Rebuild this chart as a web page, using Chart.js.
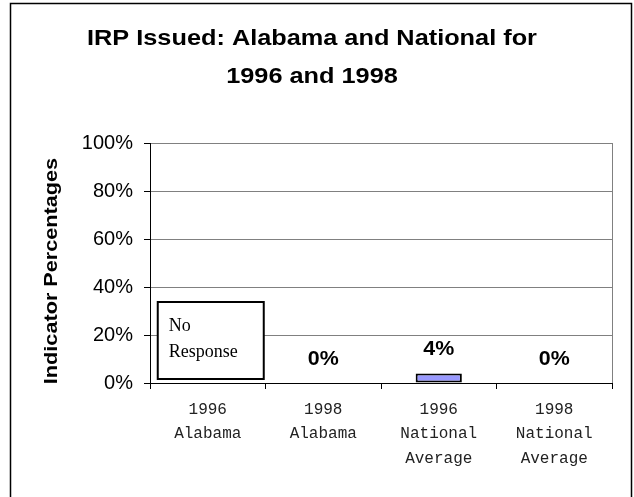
<!DOCTYPE html>
<html>
<head>
<meta charset="utf-8">
<script src="https://cdn.jsdelivr.net/npm/chart.js@4/dist/chart.umd.min.js"></script>
<style>
  html, body { margin: 0; padding: 0; background: #fff; }
  #wrap { width: 634px; height: 497px; position: relative; }
</style>
</head>
<body>
<div id="wrap"><canvas id="c" width="634" height="497"></canvas></div>
<script>
// ---- data ----
const titleLines = ["IRP Issued: Alabama and National for", "1996 and 1998"];
const yAxisTitle = "Indicator Percentages";
const categories = [
  ["1996", "Alabama"],
  ["1998", "Alabama"],
  ["1996", "National", "Average"],
  ["1998", "National", "Average"]
];
const values = [null, 0, 4, 0];           // null = no response
const noResponseText = ["No", "Response"];
const yTickValues = [0, 20, 40, 60, 80, 100];
const yTickLabels = ["0%", "20%", "40%", "60%", "80%", "100%"];

function stretchedText(ctx, text, x, y, sx, align) {
  ctx.save();
  ctx.translate(x, y);
  ctx.scale(sx, 1);
  ctx.textAlign = align || 'center';
  ctx.fillText(text, 0, 0);
  ctx.restore();
}

const decorPlugin = {
  id: 'decor',
  beforeDraw(chart) {
    const ctx = chart.ctx;
    ctx.save();
    ctx.fillStyle = '#fff';
    ctx.fillRect(0, 0, chart.width, chart.height);
    ctx.restore();
  },
  afterDraw(chart) {
    const ctx = chart.ctx;
    const area = chart.chartArea;
    const x = chart.scales.x, y = chart.scales.y;
    ctx.save();
    // outer border
    ctx.strokeStyle = '#000';
    ctx.lineWidth = 1.5;
    ctx.beginPath();
    ctx.moveTo(10.5, 505);
    ctx.lineTo(10.5, 3.5);
    ctx.lineTo(631.5, 3.5);
    ctx.lineTo(631.5, 505);
    ctx.stroke();
    // plot right border
    ctx.strokeStyle = '#808080';
    ctx.lineWidth = 1;
    ctx.beginPath();
    ctx.moveTo(Math.round(area.right) + 0.5, area.top);
    ctx.lineTo(Math.round(area.right) + 0.5, area.bottom);
    ctx.stroke();
    // title
    ctx.fillStyle = '#000';
    ctx.textBaseline = 'middle';
    ctx.font = 'bold 22px "Liberation Sans", Arial, sans-serif';
    stretchedText(ctx, titleLines[0], 312, 39, 1.15);
    stretchedText(ctx, titleLines[1], 312, 77, 1.15);
    // y axis title
    ctx.save();
    ctx.translate(52, 271);
    ctx.rotate(-Math.PI / 2);
    ctx.font = 'bold 19px "Liberation Sans", Arial, sans-serif';
    stretchedText(ctx, yAxisTitle, 0, 0, 1.14);
    ctx.restore();
    // data labels & no-response box
    const meta = chart.getDatasetMeta(0);
    values.forEach((v, i) => {
      const cx = x.getPixelForValue(i);
      if (v === null) {
        const y0 = y.getPixelForValue(0);
        const bx = cx - 50, bw = 106, by = y0 - 81, bh = 77;
        ctx.fillStyle = '#fff';
        ctx.fillRect(bx, by, bw, bh);
        ctx.strokeStyle = '#000';
        ctx.lineWidth = 2;
        ctx.strokeRect(bx, by, bw, bh);
        ctx.fillStyle = '#000';
        ctx.font = '18px "Liberation Serif", "Times New Roman", serif';
        ctx.textAlign = 'left';
        ctx.fillText(noResponseText[0], bx + 11, by + 24);
        ctx.fillText(noResponseText[1], bx + 11, by + 50);
      } else {
        const el = meta.data[i];
        ctx.fillStyle = '#000';
        ctx.font = 'bold 20px "Liberation Sans", Arial, sans-serif';
        stretchedText(ctx, v + '%', cx, el.y - 24, 1.07);
      }
    });
    ctx.restore();
  }
};

new Chart(document.getElementById('c'), {
  type: 'bar',
  data: {
    labels: categories,
    datasets: [{
      data: values,
      backgroundColor: '#9999FF',
      borderColor: '#000',
      borderWidth: 2,
      borderSkipped: false,
      barPercentage: 0.4,
      categoryPercentage: 1.0
    }]
  },
  options: {
    responsive: false,
    animation: false,
    devicePixelRatio: 1,
    layout: { padding: { top: 143, right: 22, bottom: 0, left: 0 } },
    plugins: { legend: { display: false }, title: { display: false }, tooltip: { enabled: false } },
    scales: {
      x: {
        afterFit(s) { s.height = 114; },
        grid: { display: true, drawOnChartArea: false, drawTicks: true, tickLength: 6, tickColor: '#000', offset: true },
        border: { display: true, color: '#000', width: 1 },
        ticks: {
          color: '#222',
          padding: 8,
          maxRotation: 0,
          autoSkip: false,
          font: { family: '"Liberation Mono", "Courier New", monospace', size: 16, lineHeight: 1.55 }
        }
      },
      y: {
        min: 0, max: 100,
        afterFit(s) { s.width = 150; },
        afterBuildTicks(s) { s.ticks = yTickValues.map(v => ({ value: v })); },
        grid: { color: '#808080', lineWidth: 1, tickLength: 6, tickColor: '#000' },
        border: { display: true, color: '#000', width: 1 },
        ticks: {
          color: '#000',
          padding: 11,
          font: { family: '"Liberation Sans", Arial, sans-serif', size: 20 },
          callback: (v) => yTickLabels[yTickValues.indexOf(v)]
        }
      }
    }
  },
  plugins: [decorPlugin]
});
</script>
</body>
</html>
